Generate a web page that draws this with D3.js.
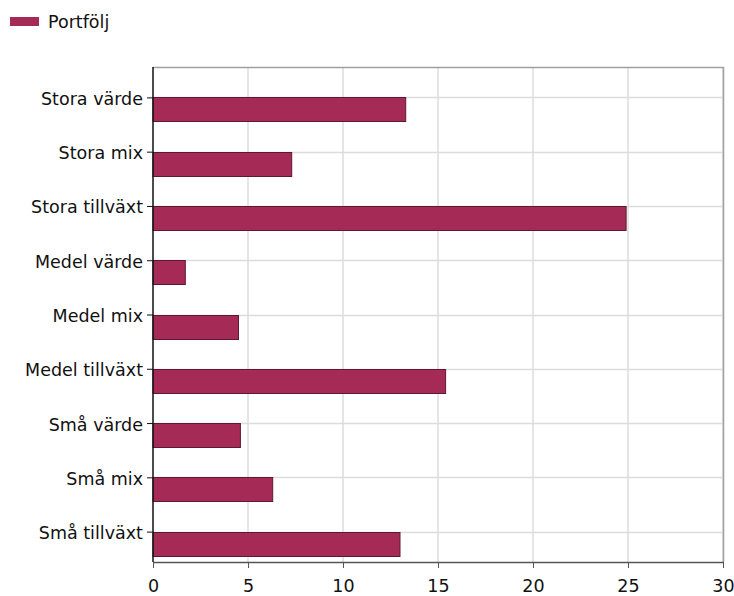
<!DOCTYPE html>
<html>
<head>
<meta charset="utf-8">
<script src="https://cdn.jsdelivr.net/npm/d3@7"></script>
<style>
  body { margin: 0; background: #fff; }
  text { font-family: "DejaVu Sans", Verdana, sans-serif; }
</style>
</head>
<body>
<div id="chart"></div>
<script>
// data
var categories = ['Stora värde', 'Stora mix', 'Stora tillväxt', 'Medel värde', 'Medel mix',
                  'Medel tillväxt', 'Små värde', 'Små mix', 'Små tillväxt']
var portfolj = [13.3, 7.3, 24.9, 1.7, 4.5, 15.4, 4.6, 6.3, 13.0]
var xTicks = [0, 5, 10, 15, 20, 25, 30]
var seriesName = 'Portfölj'

var width = 734
var height = 596
var plot = { left: 153, right: 723, top: 67, bottom: 562 }
var barColor = '#a52a56'
var barStroke = '#5e1830'
var fontSize = 17.5

var svg = d3.select('#chart').append('svg')
  .attr('width', width)
  .attr('height', height)

var x = d3.scaleLinear()
  .domain([0, 30])
  .range([plot.left, plot.right])

var y = d3.scalePoint()
  .domain(categories)
  .range([plot.top, plot.bottom])
  .padding(0.56)

// grid
svg.append('g').selectAll('line.vg')
  .data(xTicks.slice(1))
  .enter().append('line')
    .attr('x1', d => x(d)).attr('x2', d => x(d))
    .attr('y1', plot.top).attr('y2', plot.bottom)
    .attr('stroke', '#dcdcdc').attr('stroke-width', 1.5)

svg.append('g').selectAll('line.hg')
  .data(categories)
  .enter().append('line')
    .attr('x1', plot.left).attr('x2', plot.right)
    .attr('y1', d => Math.round(y(d)) + 0.5).attr('y2', d => Math.round(y(d)) + 0.5)
    .attr('stroke', '#dcdcdc').attr('stroke-width', 1.5)

// top and right border
svg.append('path')
  .attr('d', 'M' + plot.left + ',' + (plot.top + 0.5) + 'H' + (plot.right + 0.5) + 'V' + plot.bottom)
  .attr('fill', 'none')
  .attr('stroke', '#a0a0a0')
  .attr('stroke-width', 1.5)

// bars
var barH = 24
svg.append('g').selectAll('rect')
  .data(portfolj)
  .enter().append('rect')
    .attr('x', x(0))
    .attr('y', (d, i) => Math.round(y(categories[i])) + 0.5)
    .attr('width', d => x(d) - x(0))
    .attr('height', barH)
    .attr('fill', barColor)
    .attr('stroke', barStroke)
    .attr('stroke-width', 1)

// x axis
var xAxis = svg.append('g')
  .attr('transform', 'translate(0,' + plot.bottom + ')')
  .call(d3.axisBottom(x).tickValues(xTicks).tickSize(6).tickSizeOuter(0).tickPadding(12))
xAxis.select('.domain').attr('stroke', '#555').attr('stroke-width', 1.5)
xAxis.selectAll('.tick line').attr('stroke', '#555')
xAxis.selectAll('text').attr('font-size', fontSize).attr('fill', '#111')
  .attr('font-family', '"DejaVu Sans", sans-serif')

// y axis
var yAxis = svg.append('g')
  .attr('transform', 'translate(' + plot.left + ',0)')
  .call(d3.axisLeft(y).tickSize(6).tickSizeOuter(0).tickPadding(4))
yAxis.select('.domain').attr('stroke', '#111').attr('stroke-width', 1.5)
  .attr('d', 'M0,' + plot.top + 'V' + plot.bottom)
yAxis.selectAll('.tick line').attr('stroke', '#111')
yAxis.selectAll('text').attr('font-size', fontSize).attr('fill', '#111')
  .attr('font-family', '"DejaVu Sans", sans-serif')
  .attr('dy', '0.4em')

// legend
var legend = svg.append('g').attr('transform', 'translate(10,17)')
legend.append('rect')
  .attr('width', 29).attr('height', 9)
  .attr('fill', barColor)
legend.append('text')
  .attr('x', 38).attr('y', 5).attr('dy', '0.35em')
  .attr('font-size', fontSize).attr('fill', '#111')
  .text(seriesName)
</script>
</body>
</html>
